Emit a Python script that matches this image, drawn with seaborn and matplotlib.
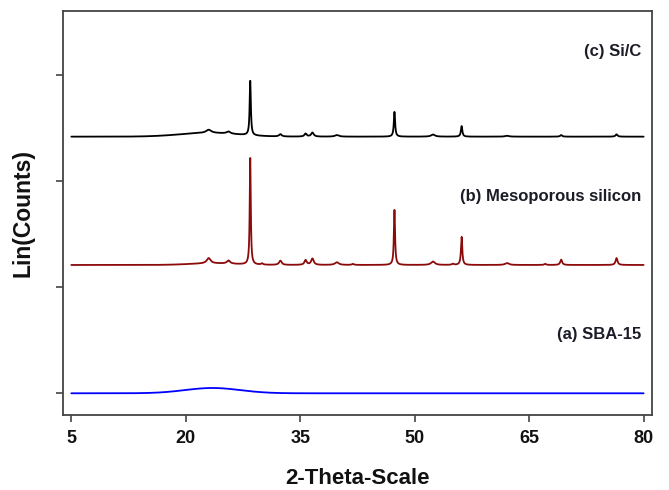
import numpy as np
import pandas as pd
import seaborn as sns
import matplotlib
matplotlib.use("Agg")
import matplotlib.pyplot as plt

# Reflection positions (2θ, degrees), heights (offset-free, arbitrary units) and FWHM
# (a) SBA-15: amorphous silica only
sba_hump = dict(center=23.5, fwhm=8.5, height=0.05)
sba_pos = []
sba_hgt = []
sba_fwhm = []

# (b) Mesoporous silicon
meso_hump = dict(center=23.5, fwhm=7.0, height=0.015)
meso_pos = [23.0, 25.6, 28.45, 30.0, 32.4, 35.7, 36.6, 39.8, 41.9, 47.35, 52.4, 55.0, 56.15, 62.1, 67.1, 69.2, 76.45]
meso_hgt = [0.05, 0.03, 1.02, 0.012, 0.04, 0.045, 0.06, 0.025, 0.01, 0.525, 0.032, 0.01, 0.267, 0.018, 0.01, 0.05, 0.065]
meso_fwhm = [0.6, 0.5, 0.16, 0.3, 0.4, 0.35, 0.4, 0.6, 0.3, 0.18, 0.6, 0.3, 0.2, 0.6, 0.3, 0.3, 0.3]

# (c) Si/C composite
sic_hump = dict(center=23.0, fwhm=9.0, height=0.035)
sic_pos = [23.0, 25.6, 28.45, 32.4, 35.7, 36.6, 39.8, 47.35, 52.4, 56.15, 62.1, 69.2, 76.45]
sic_hgt = [0.03, 0.02, 0.52, 0.022, 0.028, 0.038, 0.015, 0.235, 0.02, 0.10, 0.008, 0.015, 0.022]
sic_fwhm = [0.8, 0.6, 0.18, 0.4, 0.35, 0.4, 0.6, 0.2, 0.6, 0.22, 0.6, 0.3, 0.3]

# vertical stacking offsets
offsets = {"(a) SBA-15": 0.0, "(b) Mesoporous silicon": 1.21, "(c) Si/C": 2.42}
colors = {"(a) SBA-15": "#0000ff", "(b) Mesoporous silicon": "#8b0a0a", "(c) Si/C": "#000000"}
label_y = {"(a) SBA-15": 0.55, "(b) Mesoporous silicon": 1.855, "(c) Si/C": 3.225}

x_ticks = [5, 20, 35, 50, 65, 80]
y_ticks = [0, 1, 2, 3]

two_theta = np.arange(5.0, 80.0001, 0.02)


def profile(hump, pos, hgt, fwhm):
    """Sum of Lorentzian reflections on a Gaussian amorphous hump."""
    s = hump["fwhm"] / 2.3548
    y = hump["height"] * np.exp(-0.5 * ((two_theta - hump["center"]) / s) ** 2)
    for p, h, w in zip(pos, hgt, fwhm):
        g = w / 2.0
        y = y + h * g ** 2 / ((two_theta - p) ** 2 + g ** 2)
    return y


series = {
    "(a) SBA-15": profile(sba_hump, sba_pos, sba_hgt, sba_fwhm),
    "(b) Mesoporous silicon": profile(meso_hump, meso_pos, meso_hgt, meso_fwhm),
    "(c) Si/C": profile(sic_hump, sic_pos, sic_hgt, sic_fwhm),
}

frames = []
for name, y in series.items():
    frames.append(pd.DataFrame({"two_theta": two_theta,
                                "counts": y + offsets[name],
                                "sample": name}))
df = pd.concat(frames, ignore_index=True)

sns.set_theme(style="ticks")
plt.rcParams["font.family"] = ["Liberation Sans", "DejaVu Sans"]

fig = plt.figure(figsize=(6.69, 4.90), dpi=100)
ax = fig.add_axes([0.0946, 0.153, 0.880, 0.825])

sns.lineplot(data=df, x="two_theta", y="counts", hue="sample",
             palette=colors, estimator=None, sort=False,
             linewidth=1.3, legend=False, ax=ax)

for name in series:
    ax.text(79.7, label_y[name], name, ha="right", va="center",
            fontsize=12, fontweight="bold", color="#1c1c28")

ax.set_xlim(3.95, 81.1)
ax.set_ylim(-0.205, 3.607)
ax.set_xticks(x_ticks)
ax.set_xticklabels([str(t) for t in x_ticks], fontsize=13, fontweight="bold", color="#111111")
ax.set_yticks(y_ticks)
ax.set_yticklabels([])
ax.tick_params(axis="both", direction="out", length=5, width=1.2, color="#444444")
ax.tick_params(axis="x", pad=6)

for sp in ax.spines.values():
    sp.set_color("#444444")
    sp.set_linewidth(1.3)

ax.set_xlabel("2-Theta-Scale", fontsize=16, fontweight="bold", color="#111111", labelpad=15)
ax.set_ylabel("Lin(Counts)", fontsize=16.5, fontweight="bold", color="#111111", labelpad=12)

fig.savefig("out.png", dpi=100)
